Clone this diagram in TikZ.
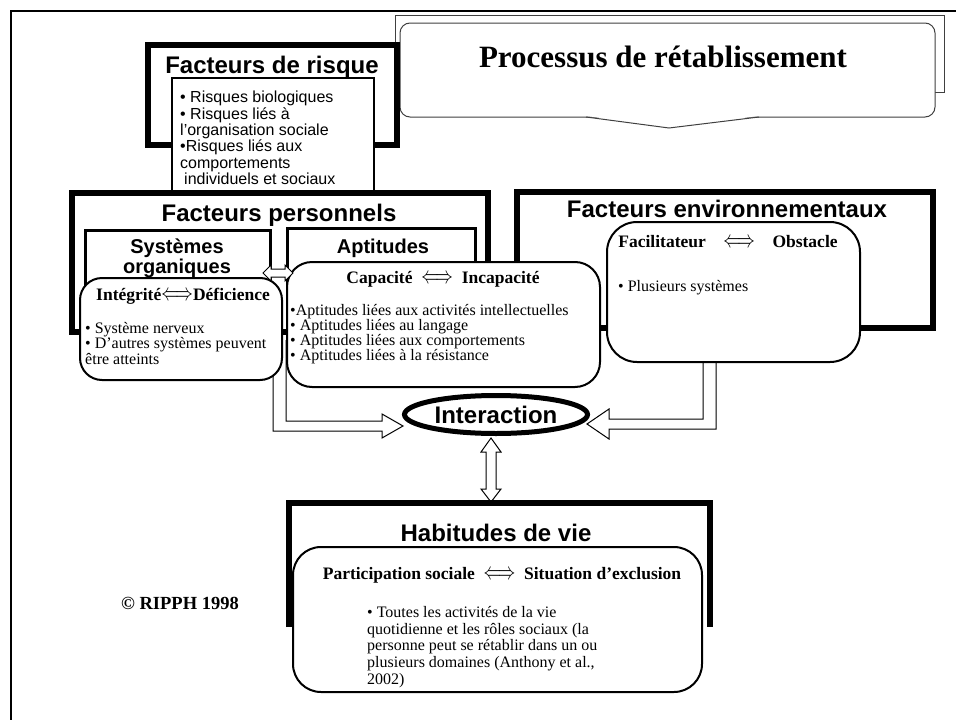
\documentclass[tikz,border=0pt]{standalone}
\usepackage{graphicx}
\usepackage{fontspec}
\setmainfont{Liberation Serif}
\setsansfont{Liberation Sans}
\usetikzlibrary{shapes.geometric}
\newcommand{\dualarrow}{\scalebox{1}[1.4]{$\Longleftrightarrow$}}

\begin{document}
\begin{tikzpicture}[x=1pt,y=-1pt,>=latex,
    bigbox/.style={draw,line width=5.5pt,fill=white,inner sep=0pt},
    midbox/.style={draw,line width=3pt,fill=white,inner sep=0pt},
    softbox/.style={draw,line width=2pt,fill=white,rounded corners=#1,inner sep=0pt},
    hollow/.style={draw,line width=1pt,fill=white},
    headtext/.style={font=\sffamily\bfseries\fontsize{24}{26}\selectfont,inner sep=0pt},
    subtext/.style={font=\sffamily\bfseries\fontsize{20}{17}\selectfont,align=center,inner sep=0pt},
    pairtext/.style={font=\bfseries\fontsize{17.5}{20}\selectfont,inner sep=0pt},
    listtext/.style={font=\fontsize{16}{#1}\selectfont,align=left,inner sep=0pt}]

    \useasboundingbox (0,0) rectangle (956,720);

    % draw the page frame
    \draw[line width=2pt] (11,720) -- (11,11) -- (956,11);

    % draw the title callout
    \node[draw=black!75,line width=1pt,minimum width=549pt,minimum height=77pt] (procback) at (669.5,53.5) {};
    \node[draw=black!75,line width=1pt,fill=white,rounded corners=10pt,minimum width=535pt,minimum height=94pt] (proc) at (667.5,70) {};
    \coordinate (proctip) at (669,128);
    % pointer under the callout
    \fill[white] (587,116) -- (proctip) -- (758,116) -- cycle;
    \draw[black!75,line width=1pt] (586,117) -- (proctip) -- (759,117);
    \node[font=\bfseries\fontsize{31}{34}\selectfont,anchor=base] (proctitle) at (663,67) {Processus de rétablissement};

    % risk factors
    \node[bigbox,minimum width=249pt,minimum height=100pt] (risque) at (272.5,95) {};
    \node[headtext,anchor=base] (risquetitle) at (272,73) {Facteurs de risque};
    \node[draw,line width=2.5pt,fill=white,inner sep=0pt,minimum width=202pt,minimum height=115pt] (risquebox) at (273,135.5) {};
    \node[font=\sffamily\fontsize{16}{16.4}\selectfont,align=left,inner sep=0pt,anchor=north west] (risquelist) at (180,91)
        {• Risques biologiques\\• Risques liés à\\l’organisation sociale\\•Risques liés aux\\comportements\\\hspace*{4pt}individuels et sociaux};

    % personal and environmental factors
    \node[bigbox,minimum width=416pt,minimum height=139pt] (perso) at (280,262.5) {};
    \node[bigbox,minimum width=416pt,minimum height=136pt] (environ) at (725,260) {};
    \node[headtext,anchor=base] (persotitle) at (279,221) {Facteurs personnels};
    \node[headtext,anchor=base] (environtitle) at (727,217) {Facteurs environnementaux};

    % hollow arrows going down to the interaction
    \coordinate (tipleft) at (403,426);
    \coordinate (tipright) at (587,424);
    \draw[hollow] (286,340) -- (286,421) -- (382,421) -- (382,414) -- (tipleft) -- (382,438) -- (382,431) -- (273,431) -- (273,340);
    \draw[hollow] (703,340) -- (703,419) -- (609,419) -- (609,409) -- (tipright) -- (609,439) -- (609,429) -- (716,429) -- (716,340);

    % organic systems and aptitudes
    \node[midbox,minimum width=185pt,minimum height=100pt] (systemes) at (177.5,280) {};
    \node[midbox,minimum width=188pt,minimum height=102pt] (aptitudes) at (381,279) {};
    \node[subtext,anchor=north] (systemestitle) at (177,238.5) {Systèmes\\organiques};
    \node[subtext,anchor=base] (aptitudestitle) at (383,253) {Aptitudes};

    % rounded boxes
    \node[softbox=22pt,minimum width=202pt,minimum height=102pt] (integrite) at (181,329) {};
    \node[softbox=25pt,minimum width=313pt,minimum height=125pt] (capacite) at (443.5,324.5) {};
    \node[softbox=30pt,minimum width=253pt,minimum height=140pt] (facil) at (733.5,292) {};

    \node[pairtext,anchor=base] (integritepair) at (183,300) {Intégrité\dualarrow Déficience};
    \node[listtext=15.5,anchor=north west] (integritelist) at (85,322)
        {• Système nerveux\\• D’autres systèmes peuvent\\être atteints};
    \node[pairtext,anchor=base] (capacitepair) at (443,283) {Capacité\enspace\dualarrow\enspace Incapacité};
    \node[listtext=15,anchor=north west] (capacitelist) at (290,304)
        {•Aptitudes liées aux activités intellectuelles\\• Aptitudes liées au langage\\• Aptitudes liées aux comportements\\• Aptitudes liées à la résistance};
    \node[pairtext,anchor=base] (facilpair) at (728,247) {Facilitateur\quad\dualarrow\quad Obstacle};
    \node[listtext=16,anchor=base west] (faciltext) at (618,291) {• Plusieurs systèmes};

    % small arrow between the two inner boxes
    \draw[hollow] (263,273) -- (271,265) -- (271,269) -- (285,269) -- (285,265) -- (293,273) -- (285,281) -- (285,277) -- (271,277) -- (271,281) -- cycle;

    % interaction
    \node[ellipse,draw,line width=5pt,fill=white,minimum width=183pt,minimum height=38pt,inner sep=0pt,headtext] (inter) at (496,414.5) {Interaction};

    % double arrow down to the life habits
    \coordinate (intertip) at (491,438);
    \coordinate (habittip) at (491,502);
    \draw[hollow] (intertip) -- (501,452) -- (496,452) -- (496,489) -- (501,489) -- (habittip) -- (481,489) -- (486,489) -- (486,452) -- (481,452) -- cycle;

    % life habits
    \node[minimum width=421pt,minimum height=124pt,inner sep=0pt] (habit) at (499.5,565) {};
    \draw[line width=5.5pt] (habit.south west) -- (habit.north west) -- (habit.north east) -- (habit.south east);
    \node[softbox=28pt,minimum width=409pt,minimum height=145pt] (habitin) at (497.5,619.5) {};
    \node[headtext,anchor=base] (habittitle) at (496,541) {Habitudes de vie};
    \node[pairtext,anchor=base] (habitpair) at (502,579) {Participation sociale\enspace\dualarrow\enspace Situation d’exclusion};
    \node[listtext=16.7,anchor=north west] (habitlist) at (367,606)
        {• Toutes les activités de la vie\\quotidienne et les rôles sociaux (la\\personne peut se rétablir dans un ou\\plusieurs domaines (Anthony et al.,\\2002)};

    % copyright
    \node[font=\bfseries\fontsize{18.5}{20}\selectfont,anchor=base] (ripph) at (180,609) {© RIPPH 1998};
\end{tikzpicture}
\end{document}
